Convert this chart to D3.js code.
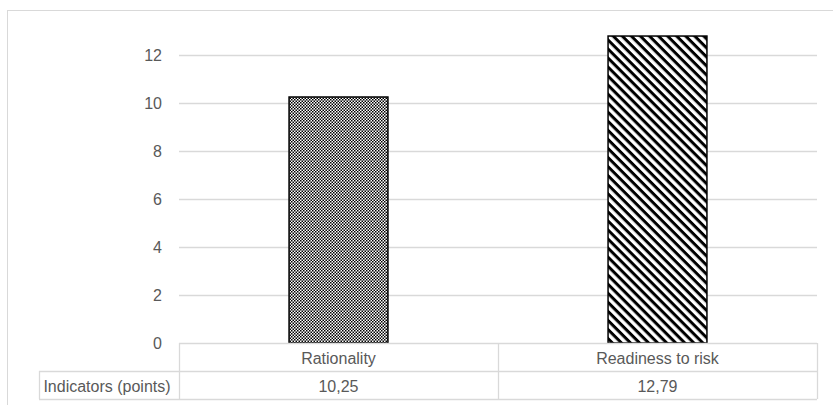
<!DOCTYPE html>
<html>
<head>
<meta charset="utf-8">
<script src="https://cdn.jsdelivr.net/npm/d3@7"></script>
<style>
html,body{margin:0;padding:0;background:#fff;}
svg{display:block;}
text{font-family:"Liberation Sans",Arial,sans-serif;fill:#595959;}
</style>
</head>
<body>
<svg id="chart" width="833" height="405"></svg>
<script>
const categories = ["Rationality", "Readiness to risk"];
const values = [10.25, 12.79];
const valueLabels = ["10,25", "12,79"];
const seriesName = "Indicators (points)";
const yTicks = [0, 2, 4, 6, 8, 10, 12];

const svg = d3.select("#chart");
const plot = {left: 179, right: 817, top: 55, bottom: 343};
const tableLeft = 39, rowH = 28;
const grid = "#d9d9d9";

// outer chart border (extends past the canvas right and bottom)
svg.append("rect").attr("x", 7.5).attr("y", 10.5).attr("width", 900).attr("height", 500)
  .attr("fill", "none").attr("stroke", grid).attr("stroke-width", 1);

const defs = svg.append("defs");
// dotted pattern
const dots = defs.append("pattern").attr("id", "dots").attr("patternUnits", "userSpaceOnUse")
  .attr("width", 3).attr("height", 3);
dots.append("rect").attr("width", 3).attr("height", 3).attr("fill", "#fff");
dots.append("rect").attr("x", 0).attr("y", 0).attr("width", 1.5).attr("height", 1.5).attr("fill", "#000");
dots.append("rect").attr("x", 1.5).attr("y", 1.5).attr("width", 1.5).attr("height", 1.5).attr("fill", "#000");
// diagonal stripes "\\"
const stripes = defs.append("pattern").attr("id", "stripes").attr("patternUnits", "userSpaceOnUse")
  .attr("width", 6.4).attr("height", 6.4).attr("patternTransform", "rotate(45)");
stripes.append("rect").attr("width", 6.4).attr("height", 6.4).attr("fill", "#fff");
stripes.append("rect").attr("width", 6.4).attr("height", 3).attr("fill", "#000");
const fills = ["url(#dots)", "url(#stripes)"];

const x = d3.scaleBand().domain(categories).range([plot.left, plot.right]).paddingInner(0.69).paddingOuter(0.345);
const y = d3.scaleLinear().domain([0, 12]).range([plot.bottom, plot.top]);

// gridlines (excluding 0, which is the table top)
svg.append("g").selectAll("line").data(yTicks.filter(d => d !== 0)).join("line")
  .attr("x1", plot.left).attr("x2", plot.right)
  .attr("y1", d => Math.round(y(d)) + 0.5).attr("y2", d => Math.round(y(d)) + 0.5)
  .attr("stroke", grid).attr("stroke-width", 1.3);

// y axis labels
const yAxis = d3.axisLeft(y).tickValues(yTicks).tickSize(0).tickPadding(17);
const ya = svg.append("g").attr("transform", `translate(${plot.left},0)`).call(yAxis);
ya.select(".domain").remove();
ya.selectAll("text").attr("font-size", 16).style("font-family", '"Liberation Sans",Arial,sans-serif').attr("fill", "#595959");

// bars
svg.append("g").selectAll("rect").data(values).join("rect")
  .attr("x", (d, i) => x(categories[i]))
  .attr("width", x.bandwidth())
  .attr("y", d => y(d))
  .attr("height", d => y(0) - y(d))
  .attr("fill", (d, i) => fills[i])
  .attr("stroke", "#000").attr("stroke-width", 1.5);

// data table
const band = d3.scaleBand().domain(categories).range([plot.left, plot.right]);
const t = svg.append("g").attr("stroke", grid).attr("stroke-width", 1.3);
t.append("line").attr("x1", plot.left).attr("x2", plot.right).attr("y1", plot.bottom + 0.5).attr("y2", plot.bottom + 0.5);
t.append("line").attr("x1", tableLeft).attr("x2", plot.right).attr("y1", plot.bottom + rowH + 0.5).attr("y2", plot.bottom + rowH + 0.5);
t.append("line").attr("x1", tableLeft).attr("x2", plot.right).attr("y1", plot.bottom + 2 * rowH + 0.5).attr("y2", plot.bottom + 2 * rowH + 0.5);
t.append("line").attr("x1", tableLeft + 0.5).attr("x2", tableLeft + 0.5).attr("y1", plot.bottom + rowH).attr("y2", plot.bottom + 2 * rowH);
const vx = [plot.left, ...categories.map(c => band(c) + band.bandwidth())];
t.selectAll(".v").data(vx).join("line").attr("class", "v")
  .attr("x1", d => Math.round(d) + 0.5).attr("x2", d => Math.round(d) + 0.5)
  .attr("y1", plot.bottom).attr("y2", plot.bottom + 2 * rowH);

svg.append("g").selectAll("text").data(categories).join("text")
  .attr("x", c => band(c) + band.bandwidth() / 2).attr("y", plot.bottom + rowH / 2 + 1)
  .attr("text-anchor", "middle").attr("dominant-baseline", "central").attr("font-size", 16)
  .text(c => c);
svg.append("g").selectAll("text").data(valueLabels).join("text")
  .attr("x", (d, i) => band(categories[i]) + band.bandwidth() / 2).attr("y", plot.bottom + rowH * 1.5 + 1)
  .attr("text-anchor", "middle").attr("dominant-baseline", "central").attr("font-size", 16)
  .text(d => d);
svg.append("text").attr("x", (tableLeft + plot.left) / 2 - 2).attr("y", plot.bottom + rowH * 1.5 + 1)
  .attr("text-anchor", "middle").attr("dominant-baseline", "central").attr("font-size", 16)
  .text(seriesName);
</script>
</body>
</html>
